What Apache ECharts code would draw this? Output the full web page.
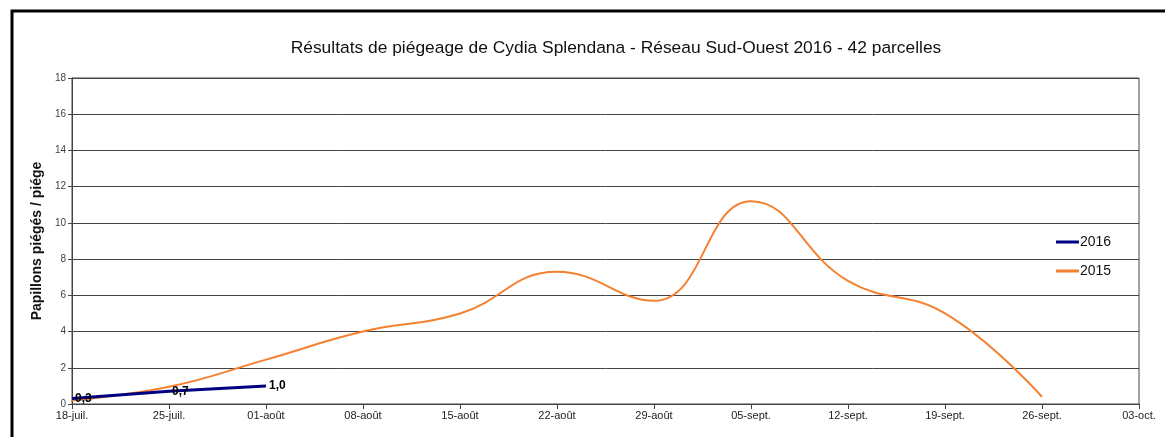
<!DOCTYPE html>
<html>
<head>
<meta charset="utf-8">
<script src="https://cdn.jsdelivr.net/npm/echarts@6/dist/echarts.min.js"></script>
<style>
html, body { margin: 0; padding: 0; background: #fff; }
#chart { width: 1165px; height: 437px; }
</style>
</head>
<body>
<div id="chart"></div>
<script>
var dates = ['18-juil.', '25-juil.', '01-août', '08-août', '15-août', '22-août',
	'29-août', '05-sept.', '12-sept.', '19-sept.', '26-sept.', '03-oct.'];
var values2016 = [0.3, 0.7, 1.0];
var values2015 = [0.2, 0.95, 2.45, 4.0, 5.0, 7.3, 5.7, 11.2, 6.8, 5.0, 0.4];

var chart = echarts.init(document.getElementById('chart'));
var font = 'Liberation Sans, Arial, sans-serif';

var option = {
	backgroundColor: '#fff',
	animation: false,
	textStyle: { fontFamily: font },
	title: {
		text: 'Résultats de piégeage de Cydia Splendana - Réseau Sud-Ouest 2016 - 42 parcelles',
		left: 611,
		top: 35,
		textAlign: 'center',
		textStyle: { fontSize: 17.4, fontWeight: 'normal', color: '#111', fontFamily: font }
	},
	graphic: [{
		type: 'rect',
		shape: { x: 12, y: 11, width: 1200, height: 500 },
		style: { fill: 'none', stroke: '#000', lineWidth: 3 },
		silent: true
	}],
	legend: {
		orient: 'vertical',
		left: 1051,
		top: 230,
		itemGap: 15,
		itemWidth: 23,
		itemHeight: 3,
		icon: 'rect',
		textStyle: { fontSize: 14, color: '#111', fontFamily: font, padding: [0, 0, 0, -4] },
		data: ['2016', '2015']
	},
	grid: {
		left: 72,
		top: 78,
		right: 26,
		bottom: 33,
		show: true,
		borderColor: '#444',
		borderWidth: 1
	},
	xAxis: {
		type: 'category',
		data: dates,
		boundaryGap: false,
		axisLine: { lineStyle: { color: '#444', width: 1 } },
		axisTick: { show: true, length: 5, lineStyle: { color: '#444' } },
		axisLabel: { fontSize: 11, color: '#222', margin: 6, fontFamily: font },
		splitLine: { show: false }
	},
	yAxis: {
		type: 'value',
		min: 0,
		max: 18,
		interval: 2,
		name: 'Papillons piégés / piége',
		nameLocation: 'middle',
		nameGap: 28,
		nameTextStyle: { fontSize: 14, fontWeight: 'bold', color: '#111', fontFamily: font },
		axisLine: { show: true, lineStyle: { color: '#444', width: 1 } },
		axisTick: { show: true, length: 4, lineStyle: { color: '#444' } },
		axisLabel: { fontSize: 10, color: '#444', margin: 6, fontFamily: font },
		splitLine: { show: true, lineStyle: { color: '#444', width: 1 } }
	},
	series: [{
		name: '2016',
		type: 'line',
		data: values2016,
		symbol: 'circle',
		symbolSize: 0,
		z: 3,
		lineStyle: { color: '#000080', width: 3 },
		itemStyle: { color: '#000080' },
		label: {
			show: true,
			position: 'right',
			distance: 3,
			fontSize: 12,
			fontWeight: 'bold',
			color: '#000',
			fontFamily: font,
			formatter: function (p) { return p.value.toFixed(1).replace('.', ','); }
		}
	}, {
		name: '2015',
		type: 'line',
		data: values2015,
		smooth: 0.45,
		showSymbol: false,
		z: 2,
		lineStyle: { color: '#f5802f', width: 2 },
		itemStyle: { color: '#f5802f' }
	}]
};
chart.setOption(option);
</script>
</body>
</html>
